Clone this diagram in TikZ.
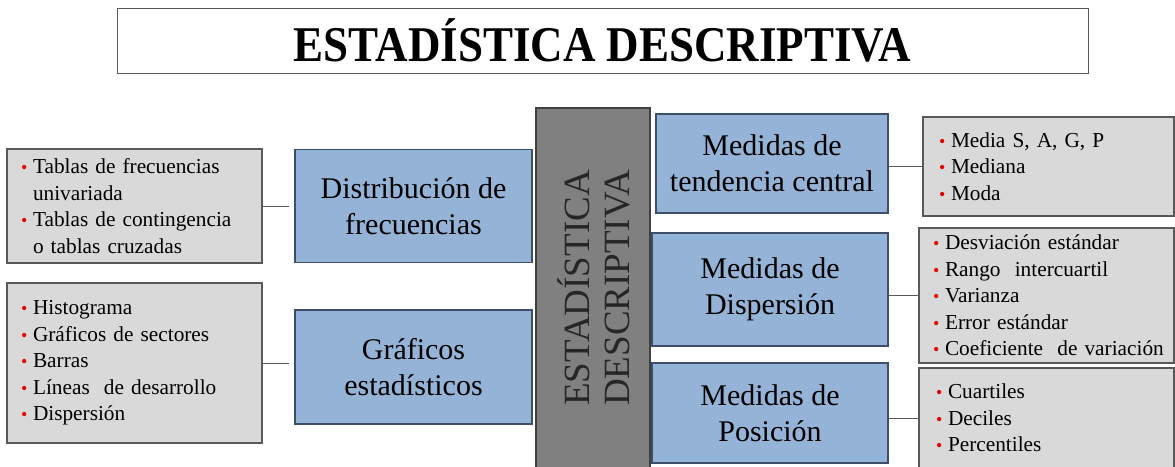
\documentclass[tikz,border=0pt]{standalone}
\usepackage{fontspec}
\setmainfont{Liberation Serif}
\usepackage{graphicx}
\definecolor{azul}{RGB}{149,179,215}
\definecolor{azulborde}{RGB}{62,78,105}
\definecolor{gris}{RGB}{217,217,217}
\definecolor{grisborde}{RGB}{89,89,89}
\definecolor{grisoscuro}{RGB}{128,128,128}
\definecolor{rojo}{RGB}{228,0,0}
\newcommand{\punto}{\makebox[12pt][l]{\textcolor{rojo}{\fontsize{18}{18}\selectfont\textbullet}}}
\newcommand{\sangria}{\hspace*{12pt}}

\begin{document}
\begin{tikzpicture}[x=1pt,y=-1pt,
  title node/.style={rectangle,draw=grisborde,line width=0.8pt,inner sep=0pt,font=\fontsize{50}{50}\selectfont\bfseries},
  blue node/.style={rectangle,draw=azulborde,line width=1.2pt,fill=azul,align=center,inner sep=0pt,font=\fontsize{30}{36}\selectfont},
  list node/.style={rectangle,draw=grisborde,line width=1.2pt,fill=gris,align=left,inner ysep=0pt,font=\fontsize{21.3}{26.5}\selectfont},
  centre node/.style={rectangle,draw=black!75,line width=1.2pt,fill=grisoscuro},
  link/.style={draw=grisborde,line width=1pt}]
  \clip (0,0) rectangle (1175,466);
  \node[title node, minimum width=971pt, minimum height=65pt] (titulo) at (602.5,40.5) {\scalebox{0.9}[1]{ESTADÍSTICA DESCRIPTIVA}};

  % izquierda
  \node[list node, text width=227pt, inner xsep=14pt, minimum height=114pt] (tablas) at (134.5,206) {\punto Tablas de frecuencias\\ \sangria univariada\\ \punto Tablas de contingencia\\ \sangria o tablas cruzadas};
  \node[list node, text width=227pt, inner xsep=14pt, minimum height=160pt] (graficos) at (134.5,363) {\punto Histograma\\ \punto Gráficos de sectores\\ \punto Barras\\ \punto Líneas\ \ de desarrollo\\ \punto Dispersión};
  \node[blue node, minimum width=237pt, minimum height=113pt] (distrib) at (413.5,206) {Distribución de\\ frecuencias};
  \node[blue node, minimum width=237pt, minimum height=114pt] (grafest) at (413.5,367) {Gráficos\\ estadísticos};

  % centro
  \node[centre node, minimum width=114pt, minimum height=372pt] (centro) at (593,294) {};
  \node[rotate=90, align=center, text=black!85, font=\fontsize{37}{40}\selectfont] (centrotxt) at (594,288) {ESTADÍSTICA\\ DESCRIPTIVA};

  % derecha
  \node[blue node, minimum width=232pt, minimum height=99pt] (tendencia) at (772,163.5) {Medidas de\\ tendencia central};
  \node[blue node, minimum width=236pt, minimum height=113pt] (dispersion) at (770,289.5) {Medidas de\\ Dispersión};
  \node[blue node, minimum width=236pt, minimum height=100pt] (posicion) at (770,413) {Medidas de\\ Posición};
  \node[list node, text width=219pt, inner xsep=16pt, minimum height=99pt] (media) at (1048.5,166.5) {\punto Media S, A, G, P\\ \punto Mediana\\ \punto Moda};
  \node[list node, text width=227pt, inner xsep=14pt, minimum height=135pt] (desviacion) at (1046.5,295.5) {\punto Desviación estándar\\ \punto Rango\ \ intercuartil\\ \punto Varianza\\ \punto Error estándar\\ \mbox{\punto Coeficiente\ \ de variación}};
  \node[list node, text width=221pt, inner xsep=17pt, minimum height=100pt] (cuartiles) at (1046.5,418) {\punto Cuartiles\\ \punto Deciles\\ \punto Percentiles};

  \path[link] (tablas.east) edge[shorten >=5pt] (tablas.east -| distrib.west)
    (graficos.east) edge[shorten >=5pt] (graficos.east -| grafest.west)
    (media.west) edge (media.west -| tendencia.east)
    (desviacion.west) edge (desviacion.west -| dispersion.east)
    (cuartiles.west) edge (cuartiles.west -| posicion.east);
\end{tikzpicture}
\end{document}
